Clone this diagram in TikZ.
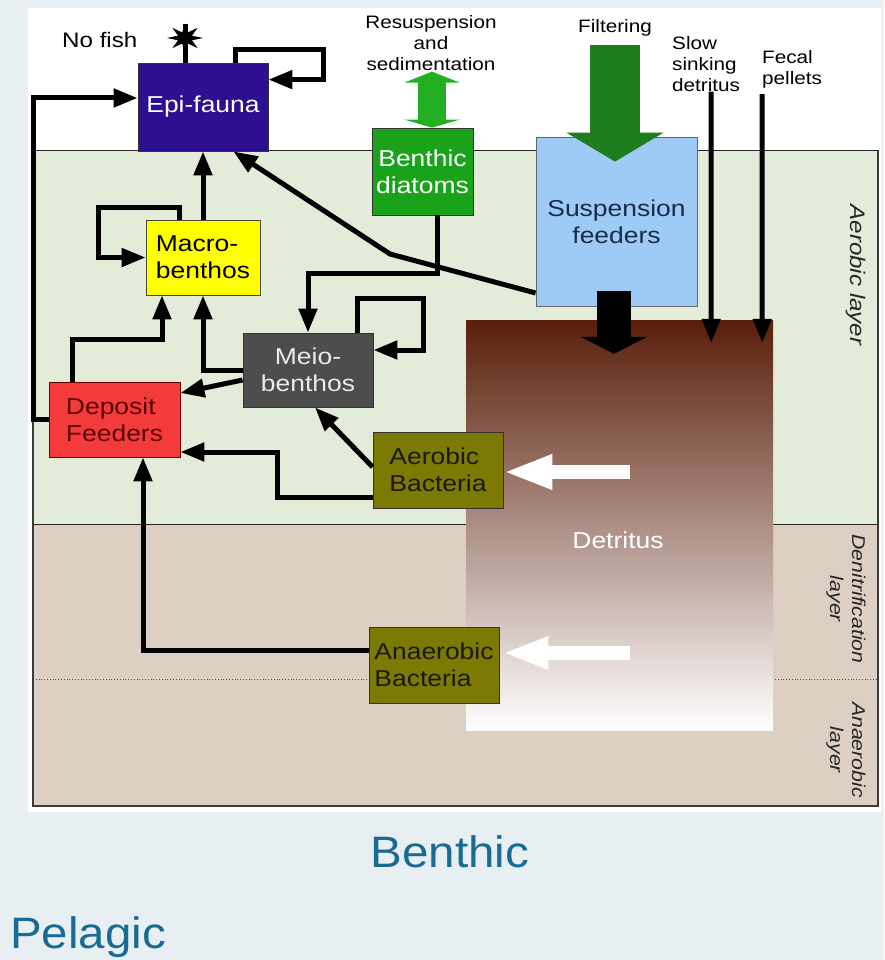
\documentclass[tikz,border=0pt]{standalone}
\usepackage{fontspec}
\setmainfont{Liberation Sans}[FakeStretch=1.15]
\newfontfamily\titlefont{Liberation Sans}[FakeStretch=1.08]
\usetikzlibrary{arrows.meta,calc,shapes.geometric}
\definecolor{pagebg}{HTML}{E8EFF3}
\definecolor{aerobg}{HTML}{E2ECD8}
\definecolor{tanbg}{HTML}{DDCFC2}
\definecolor{epicol}{HTML}{2E0E91}
\definecolor{diacol}{HTML}{1AA31A}
\definecolor{suspcol}{HTML}{9DCBF5}
\definecolor{susptext}{HTML}{1A2A4A}
\definecolor{macrocol}{HTML}{FFFF00}
\definecolor{meiocol}{HTML}{4D4D4D}
\definecolor{depcol}{HTML}{F43B3B}
\definecolor{deptext}{HTML}{5A0000}
\definecolor{bactcol}{HTML}{7A7A05}
\definecolor{bacttext}{HTML}{1A1A00}
\definecolor{filtgreen}{HTML}{1E7E1E}
\definecolor{resgreen}{HTML}{22B022}
\definecolor{dettop}{HTML}{5A1E0A}
\definecolor{detmid}{HTML}{977769}
\definecolor{titleblue}{HTML}{1A6B93}
\definecolor{borderc}{HTML}{3A3A3A}
\newcommand\boxfnt{\fontsize{23}{27}\selectfont}
\newcommand\smallfnt{\fontsize{18}{21}\selectfont}
\begin{document}
\begin{tikzpicture}[x=1pt,y=-1pt,
  box/.style={draw=black!80, line width=0.8pt, inner sep=0pt, align=center, font=\boxfnt},
  conn/.style={line width=5pt, black, -{Triangle[length=24pt,width=18pt]}},
  plainconn/.style={line width=5pt, black},
  sidelabel/.style={rotate=-90, align=center, font=\itshape\fontsize{18.5}{22}\selectfont, text=black!85},
  toplabel/.style={font=\smallfnt, inner sep=0pt, text=black}]
\useasboundingbox (0,0) rectangle (884,960);
% backgrounds
\fill[pagebg] (0,0) rectangle (884,960);
\fill[white] (28,8) rectangle (881,812);
\fill[aerobg] (33,150) rectangle (878,524);
\fill[tanbg] (33,524) rectangle (878,806);
\draw[black!85, line width=0.8pt] (33,150) -- (878,150);
\draw[black!85, line width=0.8pt] (33,524) -- (878,524);
\draw[black!70, line width=0.8pt, dotted] (33,679) -- (878,679);
\draw[borderc, line width=1.8pt] (33,150) -- (33,806) -- (878,806) -- (878,150);
% detritus
\node[shade, top color=dettop, middle color=detmid, bottom color=white, minimum width=307pt, minimum height=410pt, inner sep=0pt] (detritus) at (619.5,525) {};
\node[font=\boxfnt, text=white, anchor=base, inner sep=0pt] (dettext) at (618,548) {Detritus};
% boxes
\node[box, fill=epicol, text=white, minimum width=130pt, minimum height=88pt] (epi) at (203,107) {Epi-fauna};
\node[box, fill=diacol, text=white, minimum width=101pt, minimum height=87pt] (diatoms) at (422.5,171.5) {Benthic\\diatoms};
\node[box, fill=suspcol, text=susptext, draw=black!60, minimum width=161pt, minimum height=169pt] (susp) at (616.5,221.5) {Suspension\\feeders};
\node[box, fill=macrocol, text=black, align=left, draw=black!60!olive, minimum width=114pt, minimum height=75pt] (macro) at (203,257.5) {Macro-\\benthos};
\node[box, fill=meiocol, text=white!92!black, minimum width=130pt, minimum height=74pt] (meio) at (308,370) {Meio-\\benthos};
\node[box, fill=depcol, text=deptext, align=left, draw=black!60!red, minimum width=131pt, minimum height=75pt] (deposit) at (114.5,419.5) {Deposit\\Feeders};
\node[box, fill=bactcol, text=bacttext, align=left, minimum width=130pt, minimum height=76pt] (aer) at (438,470) {Aerobic\\Bacteria};
\node[box, fill=bactcol, text=bacttext, align=left, minimum width=130pt, minimum height=76pt] (anaer) at (434,665) {Anaerobic\\Bacteria};
% top labels
\node[toplabel, anchor=base west, font=\fontsize{21}{24}\selectfont] (nofish) at (62,48) {No fish};
\node[toplabel, anchor=north, align=center] (resusp) at (431,15) {Resuspension\\and\\sedimentation};
\node[toplabel, anchor=base] (filtering) at (615,33) {Filtering};
\node[toplabel, anchor=north west, align=left] (slow) at (672,36) {Slow\\sinking\\detritus};
\node[toplabel, anchor=north west, align=left] (fecal) at (762,50) {Fecal\\pellets};
% side labels
\node[sidelabel, font=\itshape\fontsize{21}{24}\selectfont] (aerlayer) at (856,275) {Aerobic layer};
\node[sidelabel] (denlayer) at (846,599) {Denitrification\\layer};
\node[sidelabel] (anaerlayer) at (846,750) {Anaerobic\\layer};
% bottom titles
\node[font=\titlefont\fontsize{44}{50}\selectfont, text=titleblue, anchor=base, inner sep=0pt] (benthic) at (450,867) {Benthic};
\node[font=\titlefont\fontsize{44}{50}\selectfont, text=titleblue, anchor=base west, inner sep=0pt] (pelagic) at (10,948) {Pelagic};
% no fish symbol
\coordinate (fishtop) at (185,24);
\draw[plainconn] ($(epi.north)+(-18,0)$) -- (fishtop);
\node[star, star points=8, star point ratio=2.4, fill=black, inner sep=0pt, minimum size=36pt, yscale=0.8] (nofishsym) at (185,38) {};
% big arrows
\draw[filtgreen, line width=50pt, -{Triangle[length=29pt,width=96pt]}] ($(filtering.base)+(0,12)$) -- ($(susp.north)+(-1.5,25)$);
\draw[resgreen, line width=28pt, {Triangle[length=11pt,width=55pt]}-{Triangle[length=8pt,width=55pt]}] ($(resusp.south)+(1,1)$) -- ($(resusp.south |- diatoms.north)+(1,0)$);
\draw[black, line width=34pt, -{Triangle[length=17pt,width=66pt]}] ($(susp.south)+(-2.5,-15)$) -- ($(detritus.north)+(-5.5,34)$);
\draw[white, line width=14pt, -{Triangle[length=49pt,width=32pt]}] ($(detritus.west)+(164,-53)$) -- ($(aer.east)+(0,2)$);
\draw[white, line width=14pt, -{Triangle[length=46pt,width=30pt]}] ($(detritus.west)+(164,128)$) -- ($(anaer.east)+(3,-12)$);
% thin arrows to detritus
\draw[conn] (slow.south -| 711,0) -- ($(detritus.north east)+(-62,23)$);
\draw[conn] ($(fecal.south west)+(0,6)$) -- ($(detritus.north east)+(-11,23)$);
% connectors
\draw[conn] ($(epi.north)+(32,0)$) |- (323,50) |- ($(epi.north east)+(0,17)$);
\draw[conn] (deposit.west) -- (33,419.5) |- ($(epi.west)+(0,-9)$);
\draw[conn] ($(macro.north)+(-24,0)$) |- (98,207) |- (macro.west);
\draw[conn] (macro.north) -- (epi.south);
\draw[conn] ($(meio.north)+(49,0)$) |- (423,298) |- ($(meio.east)+(0,-20)$);
\draw[conn] ($(diatoms.south)+(14.5,0)$) |- (308,273) -- (meio.north);
\draw[conn] (meio.west) -| (macro.south);
\draw[conn] ($(meio.west)+(0,10)$) -- ($(deposit.east)+(0,-26.5)$);
\draw[conn] ($(deposit.north)+(-42.5,0)$) |- (162,339) -- ($(macro.south)+(-41,0)$);
\draw[conn] ($(susp.west)+(0,71.5)$) -- (390,254) -- ($(epi.south east)+(-35,0)$);
\draw[conn] ($(aer.west)+(0,-3)$) -- ($(meio.south)+(7,0)$);
\draw[conn] ($(aer.west)+(0,27)$) -| (277,452) -- ($(deposit.east)+(0,32.5)$);
\draw[conn] ($(anaer.west)+(0,-15)$) -| ($(deposit.south)+(28.5,0)$);
\end{tikzpicture}
\end{document}
